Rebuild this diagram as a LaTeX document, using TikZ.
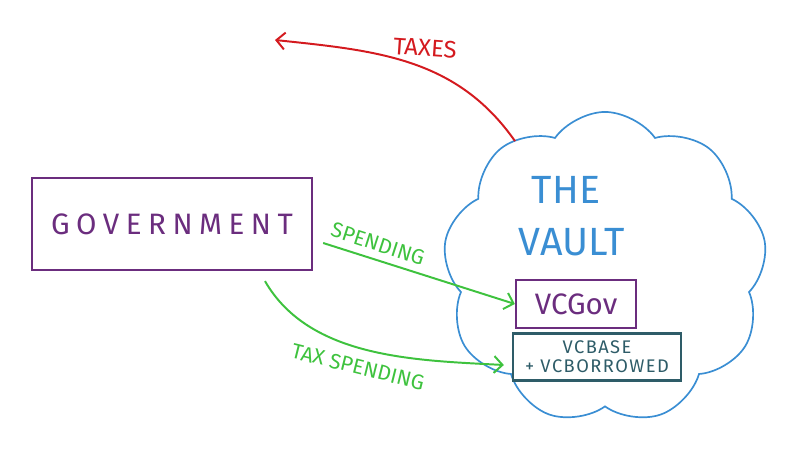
\documentclass[tikz,border=0pt]{standalone}
\usepackage{fontspec}
\setmainfont{Fira Sans}
\usetikzlibrary{shapes.symbols,arrows.meta}
\definecolor{govpurple}{HTML}{6B2D7E}
\definecolor{flowgreen}{HTML}{3EC23E}
\definecolor{taxred}{HTML}{D41A1F}
\definecolor{vaultblue}{HTML}{3A8ED3}
\definecolor{baseteal}{HTML}{2E5C68}
\tikzset{
  box/.style={draw, line width=1.6pt, inner sep=0pt},
  flow/.style={line width=1.4pt, -{Straight Barb[length=6pt,width=12pt]}},
  lbl/.style={font=\fontsize{15}{15}\selectfont},
}
\begin{document}
\begin{tikzpicture}[x=0.025cm, y=-0.025cm]
    \useasboundingbox (0,0) rectangle (800,453);

    % Vault
    \node[cloud, cloud puffs=9, cloud puff arc=110, cloud ignores aspect, draw=vaultblue, line width=1.2pt,
          minimum width=8.1cm, minimum height=7.8cm] (vault) at (605,268) {};
    \node[vaultblue, font=\fontsize{28}{28}\selectfont] (the) at (566,190) {THE};
    \node[vaultblue, font=\fontsize{28}{28}\selectfont] (vlt) at (572,242) {VAULT};

    % Boxes
    \node[box, govpurple, minimum width=7cm, minimum height=2.3cm,
          font=\fontsize{21}{21}\selectfont\addfontfeatures{LetterSpace=22}] (gov) at (172,224) {GOVERNMENT};
    \node[box, govpurple, minimum width=3cm, minimum height=1.2cm,
          font=\fontsize{21}{21}\selectfont] (vcgov) at (576,304) {VCGov};
    \node[box, baseteal, minimum width=4.2cm, minimum height=1.175cm, align=center,
          font=\fontsize{13}{13.5}\selectfont\addfontfeatures{LetterSpace=8}] (vcbase) at (597,357) {VCBASE\\+ VCBORROWED};

    % Flows
    \coordinate (away) at (275,40);
    \draw[flow, flowgreen] ([shift={(10,19)}]gov.east) -- (vcgov.west);
    \draw[flow, flowgreen] ([shift={(93,10)}]gov.south) to[out=-60, in=177, looseness=0.9] ([shift={(-8,8)}]vcbase.west);
    \draw[flow, taxred] ([shift={(-90,30)}]vault.north) to[out=125, in=-6] (away);

    % Labels
    \node[lbl, flowgreen, rotate=-18] (spend) at (378,244) {SPENDING};
    \node[lbl, flowgreen, rotate=-14] (taxspend) at (358,367) {TAX SPENDING};
    \node[lbl, taxred, rotate=-4, font=\fontsize{17}{17}\selectfont] (taxes) at (425,48) {TAXES};

\end{tikzpicture}
\end{document}
